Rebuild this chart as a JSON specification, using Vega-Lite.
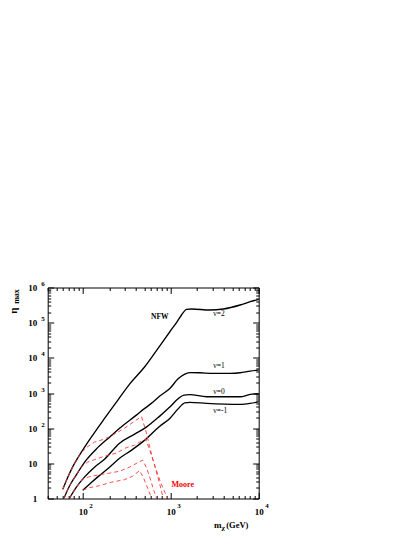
{
  "$schema": "https://vega.github.io/schema/vega-lite/v6.json",
  "width": 211,
  "height": 211,
  "autosize": {"type": "none"},
  "padding": {"left": 47.7, "top": 287.5, "right": 156.3, "bottom": 38.5},
  "background": "white",
  "config": {
    "view": {"stroke": "black", "strokeWidth": 1},
    "axis": {
      "grid": false, "domain": false, "labelFlush": false, "labelOverlap": false,
      "labelFont": "Liberation Serif", "labelFontWeight": "bold", "labelColor": "black",
      "tickColor": "black", "tickWidth": 1,
      "titleFont": "Liberation Serif", "titleFontWeight": "bold", "titleColor": "black"
    }
  },
  "datasets": {
    "curves": [
      {"nu": "2", "m": 59.4, "eta": 1.84}, {"nu": "2", "m": 66.9, "eta": 3.78}, {"nu": "2", "m": 76.9, "eta": 7.93},
      {"nu": "2", "m": 100, "eta": 23.7}, {"nu": "2", "m": 130, "eta": 63.4}, {"nu": "2", "m": 177, "eta": 189},
      {"nu": "2", "m": 251, "eta": 629}, {"nu": "2", "m": 341, "eta": 1794}, {"nu": "2", "m": 507, "eta": 5572},
      {"nu": "2", "m": 718, "eta": 18600}, {"nu": "2", "m": 978, "eta": 55200}, {"nu": "2", "m": 1174, "eta": 104000},
      {"nu": "2", "m": 1327, "eta": 165000}, {"nu": "2", "m": 1514, "eta": 240000}, {"nu": "2", "m": 1726, "eta": 245000},
      {"nu": "2", "m": 2793, "eta": 229000}, {"nu": "2", "m": 3962, "eta": 245000}, {"nu": "2", "m": 6146, "eta": 318000},
      {"nu": "2", "m": 7998, "eta": 395000}, {"nu": "2", "m": 10000, "eta": 462000},

      {"nu": "1", "m": 61.0, "eta": 1.0}, {"nu": "1", "m": 70.5, "eta": 2.24}, {"nu": "1", "m": 84.1, "eta": 4.61},
      {"nu": "1", "m": 109.4, "eta": 12.3}, {"nu": "1", "m": 142.2, "eta": 25.3}, {"nu": "1", "m": 201.7, "eta": 55.6},
      {"nu": "1", "m": 262.4, "eta": 100}, {"nu": "1", "m": 407, "eta": 235}, {"nu": "1", "m": 507, "eta": 365},
      {"nu": "1", "m": 630, "eta": 551}, {"nu": "1", "m": 751, "eta": 817}, {"nu": "1", "m": 977, "eta": 1336},
      {"nu": "1", "m": 1205, "eta": 2489}, {"nu": "1", "m": 1411, "eta": 3342}, {"nu": "1", "m": 1652, "eta": 3811},
      {"nu": "1", "m": 2148, "eta": 3761}, {"nu": "1", "m": 3046, "eta": 3614}, {"nu": "1", "m": 4729, "eta": 3614},
      {"nu": "1", "m": 6146, "eta": 3761}, {"nu": "1", "m": 7998, "eta": 4205}, {"nu": "1", "m": 10000, "eta": 4487},

      {"nu": "0", "m": 70.5, "eta": 1.0}, {"nu": "0", "m": 84.7, "eta": 2.10}, {"nu": "0", "m": 104.6, "eta": 4.04},
      {"nu": "0", "m": 136, "eta": 7.78}, {"nu": "0", "m": 177, "eta": 13.1}, {"nu": "0", "m": 262.4, "eta": 37.5},
      {"nu": "0", "m": 389, "eta": 67.6}, {"nu": "0", "m": 529, "eta": 107}, {"nu": "0", "m": 751, "eta": 220},
      {"nu": "0", "m": 977, "eta": 397}, {"nu": "0", "m": 1205, "eta": 671}, {"nu": "0", "m": 1411, "eta": 872},
      {"nu": "0", "m": 1652, "eta": 901}, {"nu": "0", "m": 2563, "eta": 780}, {"nu": "0", "m": 6146, "eta": 780},
      {"nu": "0", "m": 7998, "eta": 913}, {"nu": "0", "m": 10000, "eta": 950},

      {"nu": "-1", "m": 100, "eta": 1.72}, {"nu": "-1", "m": 119.3, "eta": 2.55}, {"nu": "-1", "m": 148.4, "eta": 4.12},
      {"nu": "-1", "m": 201.7, "eta": 7.78}, {"nu": "-1", "m": 262.4, "eta": 14.0}, {"nu": "-1", "m": 359.5, "eta": 23.7},
      {"nu": "-1", "m": 507, "eta": 45.7}, {"nu": "-1", "m": 751, "eta": 114}, {"nu": "-1", "m": 977, "eta": 189},
      {"nu": "-1", "m": 1205, "eta": 348}, {"nu": "-1", "m": 1449, "eta": 526}, {"nu": "-1", "m": 1652, "eta": 541},
      {"nu": "-1", "m": 2563, "eta": 506}, {"nu": "-1", "m": 6146, "eta": 474}, {"nu": "-1", "m": 7998, "eta": 506},
      {"nu": "-1", "m": 10000, "eta": 562}
    ],
    "moore": [
      {"nu": "2", "m": 59.4, "eta": 1.84}, {"nu": "2", "m": 66.9, "eta": 3.78}, {"nu": "2", "m": 76.9, "eta": 7.93},
      {"nu": "2", "m": 91.7, "eta": 17.1}, {"nu": "2", "m": 107.4, "eta": 27.0}, {"nu": "2", "m": 136, "eta": 40.1},
      {"nu": "2", "m": 177, "eta": 48.8}, {"nu": "2", "m": 230, "eta": 67.6}, {"nu": "2", "m": 299, "eta": 100.3},
      {"nu": "2", "m": 389, "eta": 158.6}, {"nu": "2", "m": 465.5, "eta": 213}, {"nu": "2", "m": 526.6, "eta": 77.1},
      {"nu": "2", "m": 577.4, "eta": 28.9}, {"nu": "2", "m": 658, "eta": 8.3}, {"nu": "2", "m": 751, "eta": 2.55},
      {"nu": "2", "m": 823, "eta": 1.0},

      {"nu": "1", "m": 61.0, "eta": 1.0}, {"nu": "1", "m": 70.5, "eta": 2.24}, {"nu": "1", "m": 84.1, "eta": 4.61},
      {"nu": "1", "m": 96.6, "eta": 7.9}, {"nu": "1", "m": 113.2, "eta": 10.8}, {"nu": "1", "m": 136, "eta": 12.7},
      {"nu": "1", "m": 177, "eta": 16.0}, {"nu": "1", "m": 240.6, "eta": 19.5}, {"nu": "1", "m": 313, "eta": 27.9},
      {"nu": "1", "m": 389, "eta": 32.9}, {"nu": "1", "m": 443, "eta": 40.1}, {"nu": "1", "m": 519.7, "eta": 48.8},
      {"nu": "1", "m": 577.4, "eta": 23.7}, {"nu": "1", "m": 658, "eta": 8.87}, {"nu": "1", "m": 751, "eta": 3.32},
      {"nu": "1", "m": 856, "eta": 1.51}, {"nu": "1", "m": 926.7, "eta": 1.0},

      {"nu": "0", "m": 70.5, "eta": 1.0}, {"nu": "0", "m": 84.7, "eta": 2.10}, {"nu": "0", "m": 99.2, "eta": 3.54},
      {"nu": "0", "m": 119.3, "eta": 4.17}, {"nu": "0", "m": 155.1, "eta": 4.76}, {"nu": "0", "m": 201.7, "eta": 5.25},
      {"nu": "0", "m": 262.4, "eta": 5.98}, {"nu": "0", "m": 341, "eta": 7.78}, {"nu": "0", "m": 421, "eta": 10.45},
      {"nu": "0", "m": 480, "eta": 12.3}, {"nu": "0", "m": 533.6, "eta": 7.29}, {"nu": "0", "m": 592.6, "eta": 3.32},
      {"nu": "0", "m": 641, "eta": 1.72}, {"nu": "0", "m": 694, "eta": 1.0},

      {"nu": "-1", "m": 100, "eta": 1.72}, {"nu": "-1", "m": 119.3, "eta": 2.03}, {"nu": "-1", "m": 155.1, "eta": 2.31},
      {"nu": "-1", "m": 212.6, "eta": 2.91}, {"nu": "-1", "m": 299, "eta": 3.43}, {"nu": "-1", "m": 369, "eta": 4.31},
      {"nu": "-1", "m": 443, "eta": 6.19}, {"nu": "-1", "m": 493, "eta": 3.78}, {"nu": "-1", "m": 547.7, "eta": 1.96},
      {"nu": "-1", "m": 608.4, "eta": 1.0}
    ],
    "labels": [
      {"kind": "nu", "text": "ν=2", "m": 3048, "eta": 182000},
      {"kind": "nu", "text": "ν=1", "m": 3048, "eta": 5834},
      {"kind": "nu", "text": "ν=0", "m": 3048, "eta": 1082},
      {"kind": "nu", "text": "ν=-1", "m": 3048, "eta": 316},
      {"kind": "nfw", "text": "NFW", "m": 751, "eta": 145000},
      {"kind": "moore", "text": "Moore", "m": 1021, "eta": 2.39}
    ]
  },
  "resolve": {"axis": {"x": "independent", "y": "independent"}},
  "layer": [
    {
      "data": {"name": "curves"},
      "mark": {"type": "line", "color": "black", "strokeWidth": 1.35, "interpolate": "monotone", "clip": true},
      "encoding": {
        "x": {"field": "m", "type": "quantitative",
          "scale": {"type": "log", "domain": [40, 10000], "nice": false},
          "axis": {"orient": "bottom", "values": [100, 1000, 10000], "tickSize": -6,
            "labelExpr": "'10'", "labelFontSize": 9, "labelPadding": 15, "labelBaseline": "top", "labelAlign": "center",
            "title": "m", "titleFontSize": 9, "titleX": 169.5, "titleY": 28.7, "titleAlign": "center", "titleBaseline": "alphabetic", "titleAngle": 0}},
        "y": {"field": "eta", "type": "quantitative",
          "scale": {"type": "log", "domain": [1, 1000000], "nice": false},
          "axis": {"orient": "left", "values": [1, 10, 100, 1000, 10000, 100000, 1000000], "tickSize": -6,
            "labelExpr": "datum.value == 1 ? '1' : '10'", "labelFontSize": 9, "labelPadding": 17, "labelAlign": "right", "labelBaseline": "middle",
            "title": "η", "titleFontSize": 11, "titleAngle": 270, "titleX": -31.7, "titleY": 25.8, "titleAlign": "left", "titleBaseline": "alphabetic"}},
        "detail": {"field": "nu"}
      }
    },
    {
      "data": {"name": "moore"},
      "mark": {"type": "line", "color": "#f23a3a", "strokeWidth": 0.9, "strokeDash": [4, 3], "clip": true},
      "encoding": {
        "x": {"field": "m", "type": "quantitative",
          "scale": {"type": "log", "domain": [40, 10000], "nice": false},
          "axis": {"orient": "bottom", "values": [40, 50, 60, 70, 80, 90, 200, 300, 400, 500, 600, 700, 800, 900, 2000, 3000, 4000, 5000, 6000, 7000, 8000, 9000],
            "tickSize": -3, "labels": false,
            "title": "χ", "titleFontSize": 7, "titleX": 175, "titleY": 31, "titleAlign": "center", "titleBaseline": "alphabetic", "titleAngle": 0}},
        "y": {"field": "eta", "type": "quantitative",
          "scale": {"type": "log", "domain": [1, 1000000], "nice": false},
          "axis": {"orient": "left", "values": [2, 3, 4, 5, 6, 7, 8, 9, 20, 30, 40, 50, 60, 70, 80, 90, 200, 300, 400, 500, 600, 700, 800, 900, 2000, 3000, 4000, 5000, 6000, 7000, 8000, 9000, 20000, 30000, 40000, 50000, 60000, 70000, 80000, 90000, 200000, 300000, 400000, 500000, 600000, 700000, 800000, 900000],
            "tickSize": -3, "labels": false,
            "title": "max", "titleFontSize": 8, "titleAngle": 270, "titleX": -29.4, "titleY": 15.8, "titleAlign": "left", "titleBaseline": "alphabetic"}},
        "detail": {"field": "nu"}
      }
    },
    {
      "data": {"name": "labels"},
      "transform": [{"filter": "datum.kind == 'nu'"}],
      "mark": {"type": "text", "font": "Liberation Serif", "fontSize": 7.5, "align": "left", "baseline": "middle", "color": "black"},
      "encoding": {
        "x": {"field": "m", "type": "quantitative",
          "scale": {"type": "log", "domain": [40, 10000], "nice": false},
          "axis": {"orient": "bottom", "values": [100, 1000, 10000], "ticks": false,
            "labelExpr": "'' + round(log(datum.value) / LN10)", "labelFontSize": 7, "labelPadding": 3, "labelOffset": 6, "labelAlign": "left", "labelBaseline": "top",
            "title": "(GeV)", "titleFontSize": 8.5, "titleX": 178, "titleY": 28.7, "titleAlign": "left", "titleBaseline": "alphabetic", "titleAngle": 0}},
        "y": {"field": "eta", "type": "quantitative",
          "scale": {"type": "log", "domain": [1, 1000000], "nice": false},
          "axis": {"orient": "left", "values": [100, 1000, 10000, 100000, 1000000], "ticks": false,
            "labelExpr": "'' + round(log(datum.value) / LN10)", "labelFontSize": 7, "labelPadding": 7, "labelOffset": -4, "labelAlign": "left", "labelBaseline": "middle",
            "title": null}},
        "text": {"field": "text"}
      }
    },
    {
      "data": {"name": "labels"},
      "transform": [{"filter": "datum.kind == 'nfw'"}],
      "mark": {"type": "text", "font": "Liberation Serif", "fontWeight": "bold", "fontSize": 7.5, "align": "center", "baseline": "middle", "color": "black"},
      "encoding": {
        "x": {"field": "m", "type": "quantitative",
          "scale": {"type": "log", "domain": [40, 10000], "nice": false},
          "axis": {"orient": "top", "values": [100, 1000, 10000], "tickSize": -6, "labels": false, "title": null}},
        "y": {"field": "eta", "type": "quantitative",
          "scale": {"type": "log", "domain": [1, 1000000], "nice": false},
          "axis": {"orient": "right", "values": [1, 10, 100, 1000, 10000, 100000, 1000000], "tickSize": -6, "labels": false, "title": null}},
        "text": {"field": "text"}
      }
    },
    {
      "data": {"name": "labels"},
      "transform": [{"filter": "datum.kind == 'moore'"}],
      "mark": {"type": "text", "font": "Liberation Serif", "fontWeight": "bold", "fontSize": 8, "align": "left", "baseline": "middle", "color": "#ff0000"},
      "encoding": {
        "x": {"field": "m", "type": "quantitative",
          "scale": {"type": "log", "domain": [40, 10000], "nice": false},
          "axis": {"orient": "top", "values": [40, 50, 60, 70, 80, 90, 200, 300, 400, 500, 600, 700, 800, 900, 2000, 3000, 4000, 5000, 6000, 7000, 8000, 9000],
            "tickSize": -3, "labels": false, "title": null}},
        "y": {"field": "eta", "type": "quantitative",
          "scale": {"type": "log", "domain": [1, 1000000], "nice": false},
          "axis": {"orient": "right", "values": [2, 3, 4, 5, 6, 7, 8, 9, 20, 30, 40, 50, 60, 70, 80, 90, 200, 300, 400, 500, 600, 700, 800, 900, 2000, 3000, 4000, 5000, 6000, 7000, 8000, 9000, 20000, 30000, 40000, 50000, 60000, 70000, 80000, 90000, 200000, 300000, 400000, 500000, 600000, 700000, 800000, 900000],
            "tickSize": -3, "labels": false, "title": null}},
        "text": {"field": "text"}
      }
    }
  ]
}
